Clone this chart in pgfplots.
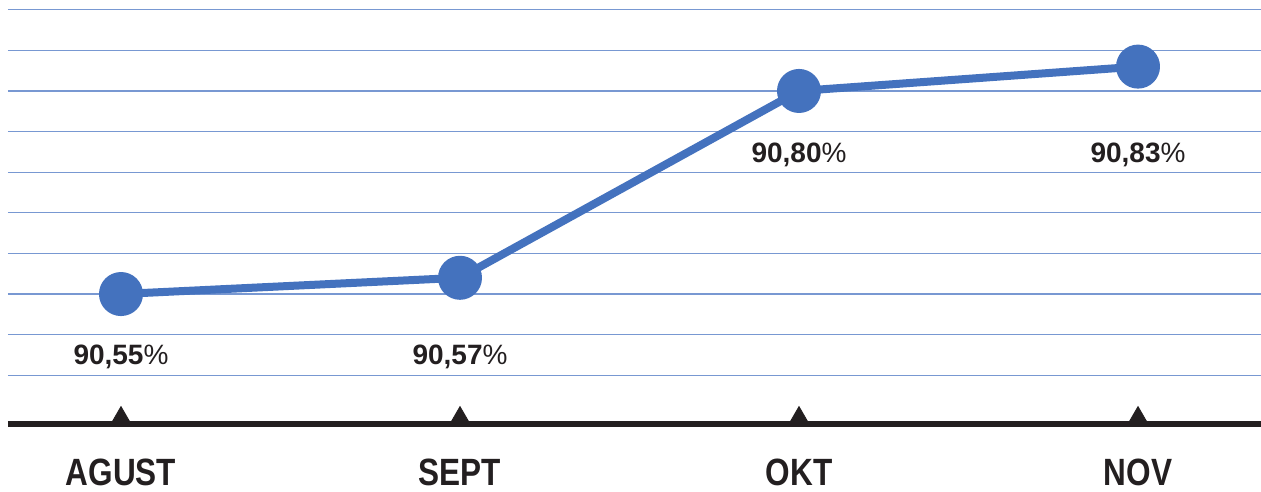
\documentclass[border=0pt]{standalone}
\usepackage{fontspec}
\setmainfont{Liberation Sans}
\newfontfamily\catfont{Liberation Sans}[FakeStretch=0.83]
\usepackage{pgfplots}
\pgfplotsset{compat=1.18}
\definecolor{lineblue}{RGB}{68,114,190}
\definecolor{gridblue}{RGB}{120,152,210}
\definecolor{darkk}{RGB}{35,31,32}
\begin{document}
\begin{tikzpicture}
\begin{axis}[
  scale only axis,
  width=626.5pt, height=212pt,
  xmin=-0.3333, xmax=3.3628,
  ymin=90.39, ymax=90.912,
  axis x line*=bottom,
  axis y line*=left,
  y axis line style={draw=none},
  x axis line style={line width=3pt, color=darkk},
  xtick={0,1,2,3},
  xticklabels={AGUST,SEPT,OKT,NOV},
  xtick style={draw=none},
  xticklabel style={anchor=base, inner sep=0pt, yshift=-31pt, font=\catfont\bfseries\fontsize{19}{20}\selectfont, text=darkk},
  ytick={90.45,90.50,90.55,90.60,90.65,90.70,90.75,90.80,90.85,90.90},
  yticklabels={},
  ytick style={draw=none},
  ymajorgrids,
  major grid style={gridblue, line width=0.6pt},
  clip=false,
]
\addplot[lineblue, line width=4pt, line join=round, mark=*, mark size=9pt, mark options={fill=lineblue, draw=none}]
  coordinates {(0,90.55) (1,90.57) (2,90.80) (3,90.83)};
\addplot[only marks, mark=triangle*, mark size=5.8pt, color=darkk, mark options={yshift=2.9pt}]
  coordinates {(0,90.39) (1,90.39) (2,90.39) (3,90.39)};
\begin{scope}[every node/.style={text=darkk, font=\fontsize{14}{15}\selectfont}]
\node at (axis cs:0,90.4724) {\textbf{90,55}\%};
\node at (axis cs:1,90.4724) {\textbf{90,57}\%};
\node at (axis cs:2,90.7212) {\textbf{90,80}\%};
\node at (axis cs:3,90.7212) {\textbf{90,83}\%};
\end{scope}
\coordinate (bl) at (rel axis cs:0,0);
\coordinate (tr) at (rel axis cs:1,1);
\end{axis}
\pgfresetboundingbox
\path ([xshift=-4pt,yshift=-34pt]bl) rectangle (tr);
\end{tikzpicture}
\end{document}
